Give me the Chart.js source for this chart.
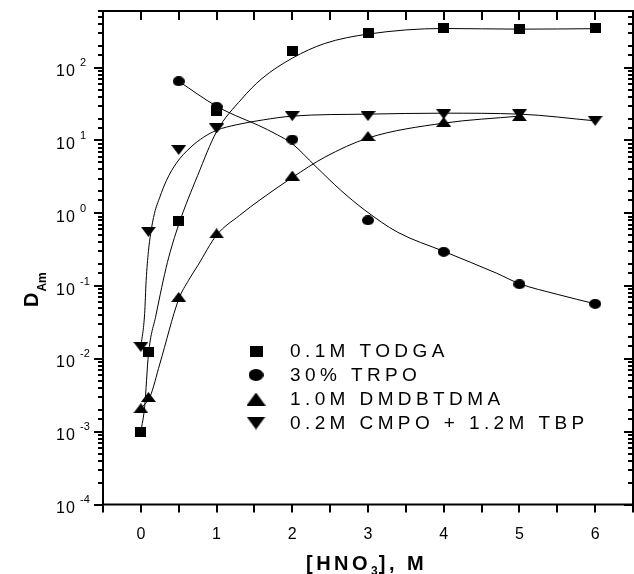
<!DOCTYPE html>
<html>
<head>
<meta charset="utf-8">
<title>D(Am) vs HNO3</title>
<script src="https://cdn.jsdelivr.net/npm/chart.js@4.4.0/dist/chart.umd.min.js"></script>
<style>
  html, body { margin: 0; padding: 0; background: #fff; overflow: hidden; }
  #wrap { width: 645px; height: 574px; }
</style>
</head>
<body>
<div id="wrap"><canvas id="chart" width="645" height="574"></canvas></div>
<script>
const todgaX = [0, 0.1, 0.5, 1, 2, 3, 4, 5, 6];
const todgaD = [0.001, 0.0126, 0.78, 25, 170, 300, 350, 335, 345];
const trpoX = [0.5, 1, 2, 3, 4, 5, 6];
const trpoD = [65, 29, 10.3, 0.8, 0.295, 0.106, 0.057];
const dmdbX = [0, 0.1, 0.5, 1, 2, 3, 4, 5];
const dmdbD = [0.0021, 0.003, 0.071, 0.53, 3.3, 11.5, 18, 21.6];
const cmpoX = [0, 0.1, 0.5, 1, 2, 3, 4, 5, 6];
const cmpoD = [0.0146, 0.556, 7.4, 14.6, 21.6, 21.6, 23, 23, 18.6];

// the drawn guide curves, sampled from the figure
const todgaFitX = [0, 0.05, 0.1, 0.2, 0.35, 0.5, 0.75, 1, 1.33, 1.6, 2, 2.43, 3, 4, 5, 6];
const todgaFitD = [0.001, 0.0022, 0.0115, 0.04, 0.21, 0.7, 3.3, 13.2, 37, 71, 135, 215, 289, 345, 338, 343];
const trpoFitX = [0.5, 1, 1.25, 1.55, 1.8, 2, 2.3, 2.64, 2.96, 3.39, 4, 4.7, 5, 5.5, 6];
const trpoFitD = [65, 29.5, 22, 16.2, 12, 9, 4.5, 2.07, 1.1, 0.55, 0.3, 0.15, 0.108, 0.077, 0.057];
const dmdbFitX = [0, 0.12, 0.25, 0.5, 0.63, 0.75, 1, 1.3, 1.6, 2, 2.43, 3, 4, 5];
const dmdbFitD = [0.0021, 0.003, 0.0085, 0.066, 0.12, 0.19, 0.5, 0.93, 1.6, 3.1, 5.9, 10.8, 17.3, 21.6];
const cmpoFitX = [0, 0.05, 0.07, 0.1, 0.13, 0.18, 0.25, 0.34, 0.47, 0.66, 0.83, 1, 1.26, 1.62, 2, 3, 4, 5, 6];
const cmpoFitD = [0.0146, 0.042, 0.12, 0.3, 0.53, 1.0, 1.66, 2.85, 4.9, 8.1, 11.1, 13.8, 16.4, 19.2, 21.6, 23, 23.7, 23, 18.6];

const seriesLabels = ["0.1M TODGA", "30% TRPO", "1.0M DMDBTDMA", "0.2M CMPO + 1.2M TBP"];
const xTickLabels = ["0", "1", "2", "3", "4", "5", "6"];
const yTickExponents = [-4, -3, -2, -1, 0, 1, 2];

const FONT = '"Liberation Sans", Arial, sans-serif';
Chart.defaults.font.family = FONT;
Chart.defaults.color = "#000";

// filled marker shapes as small canvases (Origin-like, slightly squashed)
function makeMarker(shape, w, h) {
  const c = document.createElement("canvas");
  c.width = w;
  c.height = h;
  const g = c.getContext("2d");
  g.fillStyle = "#000";
  g.beginPath();
  if (shape === "square") {
    g.rect(0, 0, w, h);
  } else if (shape === "circle") {
    g.ellipse(w / 2, h / 2, w / 2, h / 2, 0, 0, Math.PI * 2);
  } else if (shape === "up") {
    g.moveTo(w / 2, 0);
    g.lineTo(w, h);
    g.lineTo(0, h);
  } else {
    g.moveTo(0, 0);
    g.lineTo(w, 0);
    g.lineTo(w / 2, h);
  }
  g.closePath();
  g.fill();
  return c;
}

const series = [
  { xs: todgaX, ds: todgaD, fx: todgaFitX, fd: todgaFitD, shape: "square", size: [11, 10], lsize: [13, 11] },
  { xs: trpoX, ds: trpoD, fx: trpoFitX, fd: trpoFitD, shape: "circle", size: [12, 10], lsize: [15, 12] },
  { xs: dmdbX, ds: dmdbD, fx: dmdbFitX, fd: dmdbFitD, shape: "up", size: [15, 10], lsize: [19, 13] },
  { xs: cmpoX, ds: cmpoD, fx: cmpoFitX, fd: cmpoFitD, shape: "down", size: [15, 10], lsize: [19, 13] },
];

const datasets = [];
series.forEach((s, i) => {
  datasets.push({
    label: seriesLabels[i],
    data: s.xs.map((x, j) => ({ x: x, y: s.ds[j] })),
    pointStyle: makeMarker(s.shape, s.size[0], s.size[1]),
    legendImage: makeMarker(s.shape, s.lsize[0], s.lsize[1]),
    pointRadius: 6,
    showLine: false,
    order: 0,
  });
  datasets.push({
    label: seriesLabels[i] + " fit",
    data: s.fx.map((x, j) => ({ x: x, y: s.fd[j] })),
    showLine: true,
    pointRadius: 0,
    borderColor: "#000",
    borderWidth: 1,
    cubicInterpolationMode: "monotone",
    order: 1,
  });
});

function isPow10(v) {
  const l = Math.log10(v);
  return Math.abs(l - Math.round(l)) < 1e-9;
}

// frame, ticks on all four sides, y labels with exponents, titles, legend
const decorations = {
  id: "decorations",
  afterDraw(chart) {
    const ctx = chart.ctx;
    const { left, right, top, bottom } = chart.chartArea;
    const xs = chart.scales.x;
    const ys = chart.scales.y;
    ctx.save();
    ctx.strokeStyle = "#000";
    ctx.lineWidth = 2;
    ctx.strokeRect(left, top, right - left, bottom - top);

    ctx.beginPath();
    xs.ticks.forEach((t) => {
      const px = Math.round(xs.getPixelForValue(t.value));
      ctx.moveTo(px, bottom);
      ctx.lineTo(px, bottom + 8);
      ctx.moveTo(px, top);
      ctx.lineTo(px, top + 9);
    });
    ys.ticks.forEach((t) => {
      const py = Math.round(ys.getPixelForValue(t.value));
      const len = isPow10(t.value) ? 9 : 5;
      ctx.moveTo(left - len, py);
      ctx.lineTo(left, py);
      ctx.moveTo(right - len, py);
      ctx.lineTo(right, py);
    });
    ctx.stroke();

    // y tick labels: 10 with superscript exponent
    ctx.fillStyle = "#000";
    ctx.textAlign = "left";
    ctx.textBaseline = "alphabetic";
    yTickExponents.forEach((e) => {
      const py = ys.getPixelForValue(Math.pow(10, e));
      ctx.font = "16px " + FONT;
      ctx.letterSpacing = "1px";
      ctx.fillText("10", 56, py + 8.5);
      ctx.font = "11px " + FONT;
      ctx.letterSpacing = "0px";
      ctx.fillText(String(e), 80, py - 1.5);
    });

    // x title: [HNO3], M
    let x = 306;
    ctx.font = "bold 20px " + FONT;
    ctx.letterSpacing = "3.5px";
    ctx.fillText("[HNO", x, 570);
    x += ctx.measureText("[HNO").width;
    ctx.font = "bold 12px " + FONT;
    ctx.letterSpacing = "0px";
    ctx.fillText("3", x, 575);
    x += ctx.measureText("3").width + 1;
    ctx.font = "bold 20px " + FONT;
    ctx.letterSpacing = "3.5px";
    ctx.fillText("], M", x, 570);

    // y title: D_Am, rotated
    ctx.save();
    ctx.translate(38, 307);
    ctx.rotate(-Math.PI / 2);
    ctx.font = "bold 20px " + FONT;
    ctx.letterSpacing = "0px";
    ctx.fillText("D", 0, 0);
    const dw = ctx.measureText("D").width;
    ctx.font = "bold 12px " + FONT;
    ctx.fillText("Am", dw + 1, 8);
    ctx.restore();

    // legend inside the plot
    const marks = chart.data.datasets.filter((d) => d.legendImage);
    ctx.font = "19px " + FONT;
    ctx.letterSpacing = "4.4px";
    ctx.textBaseline = "middle";
    marks.forEach((d, i) => {
      const ry = 351 + i * 24;
      const img = d.legendImage;
      ctx.drawImage(img, 256 - img.width / 2, ry - img.height / 2);
      ctx.fillText(d.label, 290, ry + 1);
    });
    ctx.restore();
  },
};

new Chart(document.getElementById("chart"), {
  type: "scatter",
  data: { datasets: datasets },
  options: {
    responsive: false,
    animation: false,
    layout: { padding: { top: 11, right: 9, left: 0, bottom: 0 } },
    plugins: { legend: { display: false }, tooltip: { enabled: false } },
    scales: {
      x: {
        type: "linear",
        min: -0.5,
        max: 6.5,
        grid: { display: false },
        border: { display: false },
        ticks: {
          stepSize: 0.5,
          autoSkip: false,
          maxRotation: 0,
          padding: 12,
          font: { size: 16 },
          callback: (v) => (xTickLabels.includes(String(v)) ? String(v) : ""),
        },
        afterFit: (s) => { s.height = 69.5; },
      },
      y: {
        type: "logarithmic",
        min: 1e-4,
        max: 600,
        grid: { display: false },
        border: { display: false },
        ticks: { display: false },
        afterFit: (s) => { s.width = 103; },
      },
    },
  },
  plugins: [decorations],
});
</script>
</body>
</html>
